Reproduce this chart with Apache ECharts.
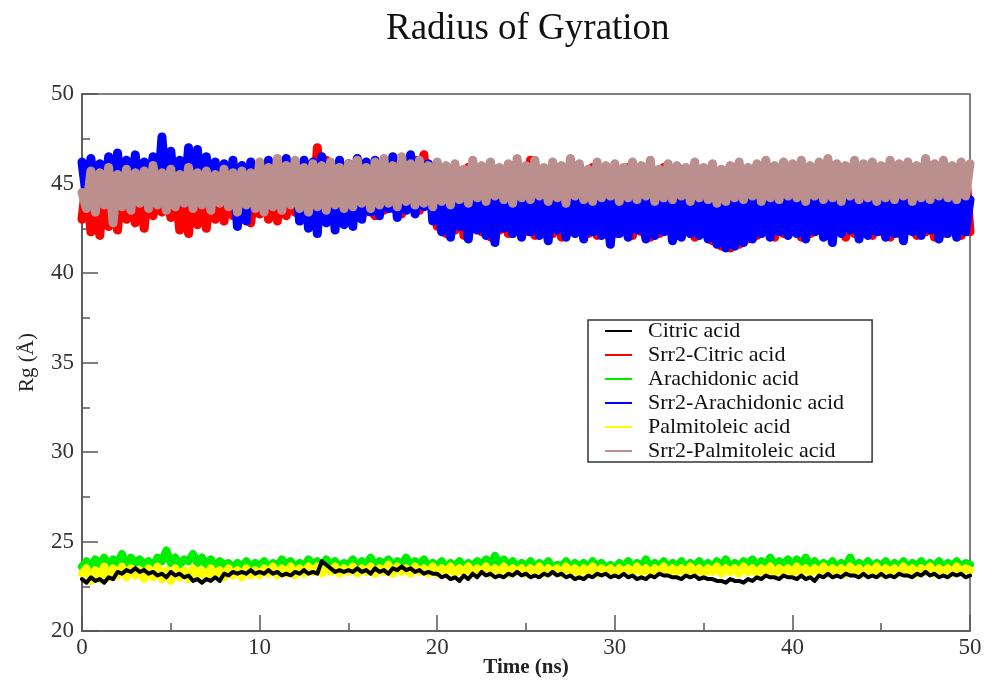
<!DOCTYPE html>
<html lang="en">
<head>
    <meta charset="UTF-8">
    <title>Radius of Gyration</title>
    <script src="https://cdn.jsdelivr.net/npm/echarts/dist/echarts.min.js"></script>
    <style>
        body { margin: 0; background: #fff; }
        #chart { width: 985px; height: 682px; }
    </style>
</head>
<body>
    <div id="chart"></div>
    <script>
        // sampled every 0.25 ns, 0..50 ns (201 frames per run)
        const step = 0.25;
        const seriesNames = ['Citric acid', 'Srr2-Citric acid', 'Arachidonic acid',
            'Srr2-Arachidonic acid', 'Palmitoleic acid', 'Srr2-Palmitoleic acid'];
        const xTicks = [0, 10, 20, 30, 40, 50];
        const yTicks = [20, 25, 30, 35, 40, 45, 50];

        const citric = [
            22.9, 22.7, 23.0, 22.8, 22.9, 22.7, 23.0, 22.9, 23.3, 23.2, 23.4, 23.3, 23.5, 23.3, 23.4, 23.2, 23.3, 23.1, 23.2, 23.0,
            23.3, 23.1, 23.2, 23.0, 23.1, 22.8, 22.9, 22.7, 22.9, 22.8, 23.0, 22.8, 23.2, 23.1, 23.3, 23.2, 23.3, 23.2, 23.4, 23.2,
            23.3, 23.2, 23.4, 23.2, 23.3, 23.1, 23.2, 23.1, 23.3, 23.2, 23.4, 23.2, 23.3, 23.2, 23.9, 23.7, 23.5, 23.3, 23.4, 23.3,
            23.4, 23.3, 23.5, 23.3, 23.4, 23.2, 23.5, 23.3, 23.4, 23.2, 23.5, 23.4, 23.6, 23.4, 23.5, 23.3, 23.4, 23.2, 23.3, 23.2,
            23.2, 23.0, 23.1, 22.9, 23.0, 22.8, 23.1, 22.9, 23.2, 23.0, 23.3, 23.1, 23.2, 23.0, 23.1, 23.0, 23.2, 23.1, 23.3, 23.1,
            23.2, 23.0, 23.1, 23.0, 23.2, 23.1, 23.3, 23.1, 23.2, 23.0, 23.1, 22.9, 23.0, 22.9, 23.1, 23.0, 23.2, 23.1, 23.2, 23.0,
            23.1, 23.0, 23.2, 23.0, 23.1, 22.9, 23.0, 22.9, 23.1, 23.0, 23.2, 23.1, 23.1, 23.0, 23.0, 22.9, 23.1, 23.0, 23.1, 22.9,
            23.0, 22.9, 22.9, 22.8, 22.8, 22.7, 22.9, 22.8, 22.8, 22.7, 22.9, 22.8, 23.0, 22.9, 23.1, 23.0, 23.0, 22.9, 23.1, 23.0,
            23.0, 22.9, 23.1, 22.9, 23.0, 22.8, 23.1, 23.0, 23.2, 23.0, 23.1, 23.0, 23.2, 23.1, 23.1, 23.0, 23.2, 23.0, 23.1, 23.0,
            23.2, 23.0, 23.1, 23.0, 23.2, 23.1, 23.1, 23.0, 23.2, 23.1, 23.3, 23.1, 23.2, 23.0, 23.1, 23.0, 23.2, 23.1, 23.2, 23.0, 23.1
        ];
        const srr2Citric = [
            43.0, 45.2, 42.3, 45.0, 42.1, 44.8, 42.6, 45.1, 42.4, 45.3, 43.0, 44.9, 42.8, 45.2, 42.5, 45.0, 43.2, 44.7, 43.4, 45.1,
            43.1, 45.0, 42.4, 44.8, 42.2, 45.2, 42.7, 44.9, 42.5, 45.1, 43.0, 44.8, 42.9, 45.3, 43.2, 44.9, 43.0, 45.1, 42.8, 45.0,
            43.3, 45.2, 43.0, 45.1, 42.9, 45.4, 43.2, 45.3, 43.4, 45.5, 43.3, 45.2, 43.0, 47.0, 43.4, 46.3, 43.2, 45.8, 43.5, 45.6,
            43.3, 45.7, 43.1, 45.5, 43.4, 45.8, 43.2, 45.6, 43.5, 45.9, 43.6, 46.1, 43.3, 45.8, 43.7, 46.3, 43.5, 46.6, 43.8, 45.9,
            42.6, 45.6, 42.2, 45.8, 42.4, 45.5, 42.1, 45.9, 42.5, 45.7, 42.3, 45.6, 42.0, 45.8, 42.4, 45.5, 42.2, 46.0, 42.5, 45.7,
            42.3, 46.3, 42.1, 45.8, 42.4, 45.6, 42.2, 45.9, 42.0, 45.7, 42.3, 45.8, 42.5, 45.6, 42.2, 45.9, 42.1, 45.7, 42.4, 45.8,
            42.2, 45.6, 42.4, 45.9, 42.1, 45.7, 42.3, 45.8, 42.0, 45.6, 42.2, 45.9, 42.4, 45.7, 42.1, 45.8, 42.3, 45.6, 42.0, 45.7,
            42.2, 45.8, 41.8, 45.6, 41.5, 45.7, 41.4, 45.9, 41.6, 45.6, 41.9, 45.8, 42.1, 45.7, 42.3, 45.9, 42.0, 45.6, 42.2, 45.8,
            42.3, 45.7, 42.0, 45.9, 42.2, 45.6, 42.4, 45.8, 42.1, 45.7, 42.3, 45.9, 42.0, 45.6, 42.2, 45.8, 42.4, 45.7, 42.1, 45.9,
            42.3, 45.6, 42.0, 45.8, 42.2, 45.7, 42.4, 45.9, 42.1, 45.6, 42.3, 45.8, 42.0, 45.7, 42.2, 45.9, 42.4, 45.6, 42.1, 45.8, 42.3
        ];
        const arachidonic = [
            23.6, 23.9, 23.5, 24.0, 23.7, 24.1, 23.6, 24.0, 23.8, 24.3, 23.7, 24.1, 23.8, 24.0, 23.7, 23.9, 23.6, 24.1, 23.9, 24.5,
            23.8, 24.1, 23.7, 24.0, 23.9, 24.3, 23.8, 24.1, 23.7, 24.0, 23.6, 23.9, 23.7, 23.8, 23.5, 23.8, 23.6, 23.9, 23.5, 23.8,
            23.6, 23.9, 23.5, 23.8, 23.6, 24.0, 23.7, 23.9, 23.5, 23.8, 23.6, 24.0, 23.7, 23.9, 23.6, 24.0, 23.7, 23.9, 23.6, 23.8,
            23.7, 24.0, 23.6, 23.9, 23.7, 24.1, 23.6, 23.9, 23.7, 24.0, 23.6, 23.9, 23.7, 24.1, 23.6, 23.9, 23.7, 24.0, 23.6, 23.8,
            23.6, 23.9, 23.5, 23.8, 23.6, 23.9, 23.5, 23.8, 23.6, 23.9, 23.7, 24.0, 23.6, 24.2, 23.7, 24.0, 23.6, 23.9, 23.5, 23.8,
            23.6, 23.9, 23.5, 23.8, 23.6, 23.9, 23.5, 23.7, 23.6, 23.9, 23.5, 23.8, 23.6, 23.8, 23.5, 23.9, 23.6, 23.8, 23.5, 23.7,
            23.5, 23.8, 23.6, 23.9, 23.5, 23.8, 23.6, 24.0, 23.5, 23.8, 23.6, 23.9, 23.5, 23.8, 23.6, 23.9, 23.5, 23.8, 23.6, 23.9,
            23.6, 23.8, 23.5, 23.9, 23.6, 24.0, 23.5, 23.8, 23.6, 23.9, 23.7, 24.0, 23.6, 23.9, 23.7, 24.1, 23.6, 23.9, 23.7, 24.0,
            23.6, 24.0, 23.7, 24.1, 23.6, 23.9, 23.5, 23.8, 23.6, 23.9, 23.5, 23.8, 23.6, 24.1, 23.5, 23.8, 23.6, 23.9, 23.5, 23.8,
            23.6, 23.9, 23.5, 23.8, 23.6, 23.9, 23.5, 23.8, 23.6, 23.9, 23.5, 23.8, 23.6, 23.9, 23.5, 23.8, 23.6, 23.9, 23.5, 23.8, 23.7
        ];
        const srr2Arachidonic = [
            46.2, 44.2, 46.4, 44.0, 46.1, 44.3, 46.5, 44.1, 46.7, 43.9, 46.3, 44.2, 46.6, 44.0, 46.2, 43.8, 46.5, 44.1, 47.6, 44.6,
            46.8, 44.2, 46.3, 43.9, 47.0, 44.3, 46.9, 44.1, 46.5, 43.7, 46.2, 44.0, 46.1, 43.8, 46.3, 42.6, 46.0, 42.9, 46.2, 44.0,
            46.1, 44.0, 46.3, 43.9, 46.2, 43.7, 46.4, 44.1, 46.1, 42.9, 46.3, 42.5, 46.2, 42.2, 46.5, 42.8, 46.0, 42.4, 46.3, 42.7,
            46.1, 42.6, 46.4, 43.0, 46.2, 43.4, 46.3, 43.2, 46.1, 43.6, 46.5, 43.1, 46.2, 43.5, 46.6, 43.3, 46.3, 43.7, 46.1, 42.9,
            44.4, 42.3, 44.1, 42.0, 44.5, 42.6, 43.9, 41.9, 44.2, 42.4, 44.3, 42.1, 44.0, 41.7, 44.4, 42.5, 44.1, 42.2, 44.3, 42.0,
            44.2, 42.3, 44.4, 42.1, 43.9, 41.8, 44.3, 42.4, 44.1, 42.0, 44.5, 42.2, 44.0, 41.9, 44.2, 42.3, 44.3, 42.1, 44.0, 41.6,
            44.4, 42.2, 44.1, 42.0, 44.3, 42.4, 44.0, 41.9, 44.2, 42.1, 44.4, 42.3, 43.9, 41.8, 44.3, 42.0, 44.1, 42.2, 44.4, 42.1,
            44.2, 41.9, 44.0, 41.6, 44.3, 41.4, 44.1, 41.5, 44.2, 41.7, 44.0, 41.9, 44.3, 42.2, 44.1, 42.0, 44.4, 42.3, 44.2, 42.1,
            44.3, 42.2, 44.0, 41.9, 44.4, 42.3, 44.1, 42.0, 44.2, 41.7, 44.5, 42.2, 44.0, 42.4, 44.3, 41.9, 44.1, 42.1, 44.4, 42.3,
            44.2, 42.0, 44.3, 42.2, 44.1, 41.8, 44.4, 42.3, 44.0, 42.1, 44.2, 42.4, 44.3, 41.9, 44.1, 42.2, 44.4, 42.0, 44.2, 42.3, 44.1
        ];
        const palmitoleic = [
            23.2, 23.5, 22.8, 23.4, 22.9, 23.6, 23.0, 23.5, 23.1, 23.6, 23.0, 23.5, 23.1, 23.4, 22.9, 23.5, 23.0, 23.6, 22.9, 23.4,
            22.8, 23.5, 23.0, 23.4, 22.9, 23.5, 23.1, 23.4, 23.0, 23.5, 23.1, 23.4, 23.0, 23.5, 23.1, 23.4, 23.0, 23.5, 23.1, 23.4,
            23.1, 23.5, 23.2, 23.6, 23.1, 23.5, 23.2, 23.6, 23.1, 23.5, 23.2, 23.6, 23.3, 23.6, 23.2, 23.5, 23.3, 23.6, 23.2, 23.5,
            23.3, 23.6, 23.2, 23.5, 23.3, 23.6, 23.2, 23.5, 23.3, 23.7, 23.2, 23.6, 23.3, 23.5, 23.2, 23.6, 23.3, 23.5, 23.2, 23.6,
            23.2, 23.5, 23.3, 23.6, 23.2, 23.5, 23.3, 23.6, 23.2, 23.5, 23.3, 23.6, 23.2, 23.5, 23.3, 23.6, 23.2, 23.5, 23.3, 23.5,
            23.2, 23.5, 23.3, 23.6, 23.2, 23.5, 23.3, 23.5, 23.2, 23.6, 23.3, 23.5, 23.2, 23.5, 23.3, 23.6, 23.2, 23.5, 23.3, 23.5,
            23.2, 23.5, 23.3, 23.5, 23.2, 23.6, 23.3, 23.5, 23.2, 23.5, 23.3, 23.6, 23.2, 23.5, 23.3, 23.5, 23.2, 23.6, 23.3, 23.5,
            23.2, 23.5, 23.3, 23.6, 23.2, 23.5, 23.3, 23.5, 23.2, 23.6, 23.3, 23.5, 23.2, 23.5, 23.3, 23.6, 23.2, 23.5, 23.3, 23.5,
            23.2, 23.6, 23.3, 23.5, 23.2, 23.5, 23.3, 23.6, 23.2, 23.5, 23.3, 23.5, 23.2, 23.6, 23.3, 23.5, 23.2, 23.5, 23.3, 23.6,
            23.2, 23.5, 23.3, 23.5, 23.2, 23.6, 23.3, 23.5, 23.2, 23.5, 23.3, 23.6, 23.2, 23.5, 23.3, 23.5, 23.2, 23.6, 23.3, 23.5, 23.4
        ];
        const srr2Palmitoleic = [
            44.5, 43.6, 45.7, 43.4, 45.6, 43.8, 45.9, 42.8, 45.5, 43.7, 45.8, 43.5, 45.6, 43.9, 45.7, 43.6, 46.0, 43.8, 45.6, 43.5,
            45.8, 43.7, 45.5, 43.9, 45.9, 43.6, 45.6, 43.8, 45.7, 43.5, 45.5, 43.9, 45.8, 43.7, 45.6, 43.4, 45.7, 43.8, 45.6, 43.6,
            46.2, 43.4, 45.9, 43.7, 46.4, 43.5, 46.0, 43.8, 46.3, 43.6, 45.9, 43.4, 46.1, 43.7, 46.0, 43.5, 46.2, 43.8, 45.9, 43.6,
            46.1, 43.7, 46.3, 43.9, 45.9, 43.6, 46.2, 43.8, 46.4, 43.9, 46.0, 43.7, 46.5, 44.0, 46.1, 43.8, 46.3, 43.9, 46.0, 43.7,
            46.2, 44.0, 46.0, 43.8, 46.1, 44.1, 45.8, 43.9, 46.3, 44.2, 46.0, 44.0, 46.2, 44.3, 45.9, 44.1, 46.1, 43.9, 46.4, 44.2,
            46.0, 44.1, 46.3, 44.3, 45.9, 44.0, 46.2, 44.2, 46.0, 43.9, 46.4, 44.3, 46.1, 44.1, 45.8, 44.0, 46.2, 44.2, 46.0, 44.3,
            46.1, 44.0, 45.9, 44.2, 46.2, 44.1, 46.0, 44.3, 46.3, 44.0, 45.8, 44.2, 46.1, 44.1, 46.0, 44.3, 45.9, 44.0, 46.2, 44.2,
            45.9, 44.1, 46.1, 43.9, 45.8, 44.0, 46.0, 44.2, 46.2, 44.1, 45.9, 44.3, 46.1, 44.0, 46.3, 44.2, 46.0, 44.1, 46.2, 44.3,
            46.1, 44.2, 46.3, 44.0, 46.0, 44.3, 46.2, 44.1, 46.4, 44.2, 46.1, 44.0, 46.0, 44.3, 46.3, 44.1, 46.1, 44.2, 46.2, 44.0,
            46.0, 44.2, 46.3, 44.1, 46.1, 44.3, 46.2, 44.0, 46.0, 44.2, 46.4, 44.1, 46.1, 44.3, 46.3, 44.2, 46.0, 44.1, 46.2, 44.3, 46.1
        ];

        const seriesData = [citric, srr2Citric, arachidonic, srr2Arachidonic, palmitoleic, srr2Palmitoleic];
        const colors = ['#000000', '#ff0000', '#00ee00', '#0000ff', '#ffff00', '#bc8f8f'];
        const zOrder = [4, 2, 2, 3, 3, 4];
        const widths = [4, 9, 8, 9, 8, 9];

        const serif = 'Liberation Serif, Times New Roman, serif';
        const chart = echarts.init(document.getElementById('chart'));

        const option = {
            animation: false,
            backgroundColor: '#fff',
            title: {
                text: 'Radius of Gyration',
                left: 381,
                top: 6,
                textStyle: { fontFamily: serif, fontSize: 37, fontWeight: 'normal', color: '#111' }
            },
            legend: {
                orient: 'vertical',
                left: 588,
                top: 320,
                data: seriesNames,
                icon: 'rect',
                itemWidth: 27,
                itemHeight: 2,
                itemGap: 2,
                padding: [0, 28, 0, 17],
                borderColor: '#333',
                borderWidth: 1.5,
                backgroundColor: '#fff',
                textStyle: { fontFamily: serif, fontSize: 22, color: '#111', padding: [0, 0, 0, 11] }
            },
            grid: {
                left: 82, right: 15, top: 94, bottom: 51,
                outerBoundsMode: 'none',
                show: true,
                borderColor: '#555',
                borderWidth: 1.5
            },
            xAxis: {
                type: 'value',
                min: xTicks[0],
                max: xTicks[xTicks.length - 1],
                interval: 10,
                name: 'Time (ns)',
                nameLocation: 'middle',
                nameGap: 26,
                nameMoveOverlap: false,
                nameTextStyle: { fontFamily: serif, fontSize: 21, fontWeight: 'bold', color: '#222' },
                axisLine: { lineStyle: { color: '#555', width: 1.5 } },
                axisTick: { inside: true, length: 16, lineStyle: { color: '#555', width: 1.5 } },
                minorTick: { show: true, splitNumber: 2, length: 8, lineStyle: { color: '#555', width: 1.5 } },
                axisLabel: { fontFamily: serif, fontSize: 23, color: '#333', margin: 5 },
                splitLine: { show: false }
            },
            yAxis: {
                type: 'value',
                min: yTicks[0],
                max: yTicks[yTicks.length - 1],
                interval: 5,
                name: 'Rg (Å)',
                nameLocation: 'middle',
                nameGap: 44,
                nameMoveOverlap: false,
                nameTextStyle: { fontFamily: serif, fontSize: 21, color: '#222' },
                axisLine: { lineStyle: { color: '#555', width: 1.5 } },
                axisTick: { inside: true, length: 16, lineStyle: { color: '#555', width: 1.5 } },
                minorTick: { show: true, splitNumber: 2, length: 8, lineStyle: { color: '#555', width: 1.5 } },
                axisLabel: { fontFamily: serif, fontSize: 23, color: '#333', margin: 8 },
                splitLine: { show: false }
            },
            series: seriesNames.map((name, k) => ({
                name: name,
                type: 'line',
                symbol: 'none',
                z: zOrder[k],
                color: colors[k],
                lineStyle: { width: widths[k], color: colors[k], join: 'round', cap: 'round' },
                data: seriesData[k].map((v, i) => [i * step, v])
            }))
        };

        chart.setOption(option);
    </script>
</body>
</html>
